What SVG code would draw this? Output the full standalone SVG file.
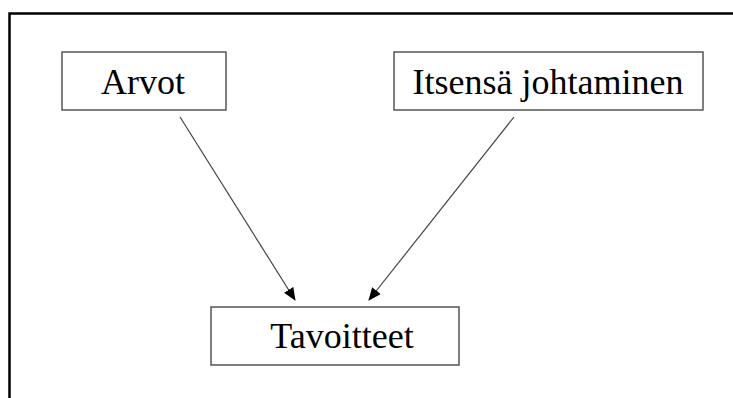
<svg xmlns="http://www.w3.org/2000/svg" width="733" height="398" viewBox="0 0 733 398">
  <style>
    .box { fill: #ffffff; stroke: #555555; stroke-width: 1.5; }
    .lbl { font-family: "Liberation Serif", "Times New Roman", serif; font-size: 36px; fill: #000000; text-anchor: middle; }
    .conn { stroke: #444444; stroke-width: 1.2; fill: none; marker-end: url(#arrow); }
  </style>
  <defs>
    <marker id="arrow" markerWidth="13" markerHeight="11" refX="12" refY="5.5" orient="auto" markerUnits="userSpaceOnUse">
      <path d="M0,0 L13,5.5 L0,11 Z" fill="#000000"/>
    </marker>
  </defs>
  <rect width="733" height="398" fill="#ffffff"/>
  <path d="M9.5 398 V13.5 H733" fill="none" stroke="#000000" stroke-width="2.5"/>
  <g id="arvot">
    <rect class="box" x="62" y="52" width="164" height="58"/>
    <text class="lbl" x="143" y="94">Arvot</text>
  </g>
  <g id="itsensa">
    <rect class="box" x="394" y="52" width="309" height="58"/>
    <text class="lbl" x="548" y="94">Itsensä johtaminen</text>
  </g>
  <g id="tavoitteet">
    <rect class="box" x="211" y="307" width="248" height="58"/>
    <text class="lbl" x="342" y="348">Tavoitteet</text>
  </g>
  <g id="connectors">
    <line class="conn" x1="180" y1="117" x2="295" y2="300"/>
    <line class="conn" x1="514" y1="117" x2="369" y2="300"/>
  </g>
</svg>
